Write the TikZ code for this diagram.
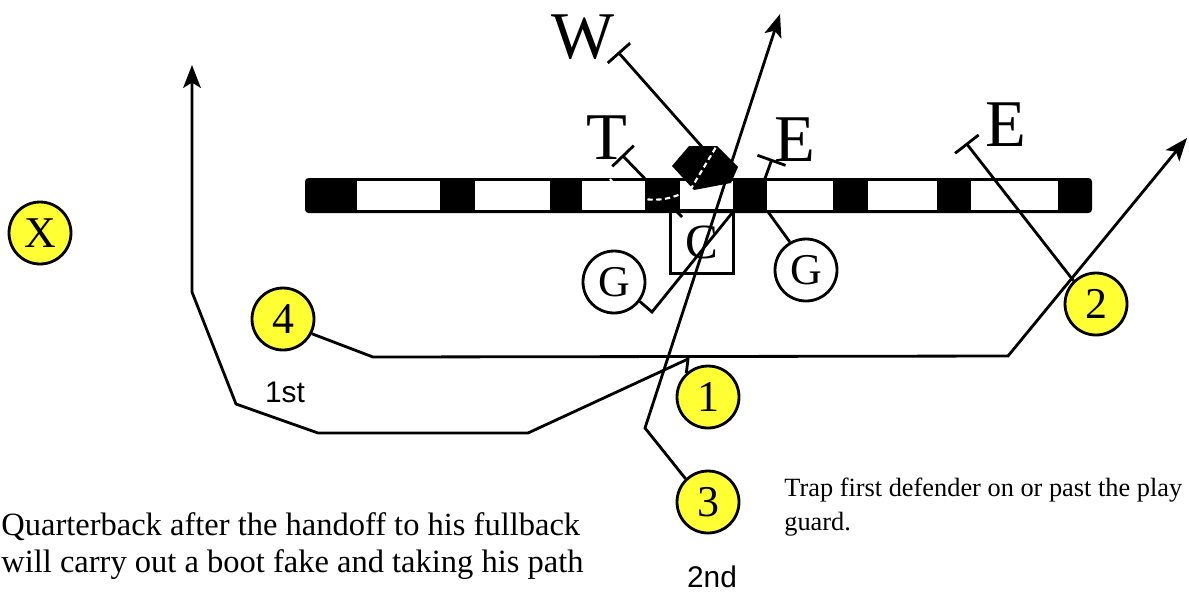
\documentclass[tikz,border=0pt]{standalone}
\usepackage{fontspec}
\setmainfont{Liberation Serif}
\newfontfamily\arialfont{Liberation Sans}
\usetikzlibrary{arrows.meta}
\definecolor{playyellow}{RGB}{255,255,51}

\begin{document}
\begin{tikzpicture}[x=0.02cm, y=-0.02cm,
    player/.style={draw, circle, line width=1.6pt, fill=playyellow, minimum size=1.24cm, inner sep=0pt, font=\fontsize{25}{25}\selectfont},
    lineman/.style={player, fill=white},
    defender/.style={inner sep=0pt, font=\fontsize{38}{38}\selectfont},
    route/.style={line width=1.6pt, -{Stealth[length=13pt,width=10pt,inset=3pt]}},
    block/.style={line width=1.6pt, -{Bar[width=17pt]}},
    hole/.style={fill=white}
]
\useasboundingbox (0,0) rectangle (1189,593);

% Offense
\node[player] (px) at (40,233) {X};
\node[player] (p4) at (283,319) {4};
\node[player] (p1) at (708,397) {1};
\node[player] (p3) at (708,502) {3};
\node[player] (p2) at (1096,304) {2};
\node[lineman] (gl) at (614,282) {G};
\node[lineman] (gr) at (806,270) {G};

% Defense
\node[defender] (lw) at (583,37) {W};
\node[defender] (lt) at (607,138) {T};
\node[defender] (le) at (795,140) {E};
\node[defender] (lre) at (1006,125) {E};
\coordinate (tw) at (618,52);
\coordinate (tt) at (622,155);
\coordinate (te) at (772,159);
\coordinate (tre) at (966,143);

% Blocks under the line
\coordinate (ct) at (682,217);
\draw[block] (ct) -- (tt);
\draw[block] (gr.120) -- (758,198) -- (te);
\draw[line width=1.6pt] (gl.-37) -- (652,312) -- (745,197);

% Line of scrimmage
\fill[black, rounded corners=2pt] (305,178) rectangle (1092,213);
\foreach \a/\b in {357/440, 475/550, 582/645, 680/733, 767/833, 868/937, 971/1058}
    \fill[hole] (\a,181) rectangle (\b,210);

% Linebacker
\coordinate (wh) at (703,148);
\fill (672,166) -- (689,146) -- (717,146) -- (738,167) -- (731,183) -- (694,190) -- cycle;
\draw[white, line width=1.2pt, dash pattern=on 3pt off 2pt] (610,179) .. controls (628,204) and (668,206) .. (692,187) -- (716,147);
\draw[block] (wh) -- (tw);
\draw[block] (p2.134) -- (tre);

\node[draw, line width=1.2pt, minimum width=1.26cm, minimum height=1.26cm, inner sep=0pt, font=\fontsize{28}{28}\selectfont] (cbox) at (702,242) {C};

% Routes
\draw[route] (p4.-27) -- (373,357) -- (1008,356) -- (1187,138);
\draw[route] (p1.132) -- (688,359) -- (528,433) -- (318,433) -- (236,404) -- (192,292) -- (192,65);
\draw[route] (p3.134) -- (645,428) -- (780,14);

% Notes
\node[inner sep=0pt, font=\arialfont\fontsize{17}{17}\selectfont] (first) at (285,392) {1st};
\node[inner sep=0pt, font=\arialfont\fontsize{17}{17}\selectfont] (second) at (712,577) {2nd};
\node[anchor=base west, align=left, inner sep=0pt, font=\fontsize{15}{19}\selectfont] (trap) at (784,530) {Trap first defender on or past the play\\guard.};
\node[anchor=base west, align=left, inner sep=0pt, font=\fontsize{18.5}{21}\selectfont] (qbnote) at (1,572) {Quarterback after the handoff to his fullback\\will carry out a boot fake and taking his path};
\end{tikzpicture}
\end{document}
